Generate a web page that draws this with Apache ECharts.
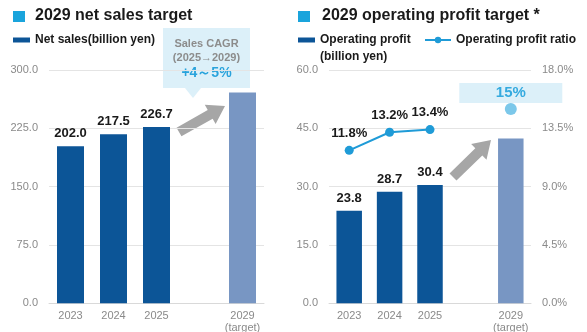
<!DOCTYPE html>
<html>
<head>
<meta charset="utf-8">
<script src="https://cdn.jsdelivr.net/npm/echarts@6/dist/echarts.min.js"></script>
<style>
  html, body { margin: 0; padding: 0; background: #fff; }
  #chart { width: 587px; height: 332px; }
</style>
</head>
<body>
<div id="chart"></div>
<script>
// Fiscal years on both panels; the blank slot separates actuals from the target year
const years = ['2023', '2024', '2025', '', '2029\n(target)'];

// Net sales, billion yen
const netSales = [202.0, 217.5, 226.7, null, 271];

// Operating profit, billion yen
const opProfit = [23.8, 28.7, 30.4, null, 42.4];

// Operating profit ratio, percent
const opRatio = [11.8, 13.2, 13.4, null, 15];

// Axis ranges and steps
const salesAxis = { min: 0, max: 300, interval: 75 };
const profitAxis = { min: 0, max: 60, interval: 15 };
const ratioAxis = { min: 0, max: 18, interval: 4.5 };

const DARK = '#0c5597';
const TARGET = '#7896c3';
const LINE = '#1f9bd7';
const ACCENT = '#1aa4dc';
const FONT = '"Liberation Sans", Arial, sans-serif';

const chart = echarts.init(document.getElementById('chart'), null, { renderer: 'canvas' });

const lastIdx = years.length - 1;

function barData(values) {
  return values.map((v, i) => {
    if (v == null) return null;
    if (i === lastIdx) {
      return { value: v, itemStyle: { color: TARGET }, label: { show: false } };
    }
    return v;
  });
}

function ratioData(values) {
  return values.map((v, i) => {
    if (v == null) return null;
    if (i === lastIdx) {
      return {
        value: v,
        symbolSize: 12,
        itemStyle: { color: '#7cc8ea' },
        label: {
          show: true,
          position: 'top',
          distance: 10,
          formatter: '{c}%',
          color: '#35aadf',
          fontSize: 15,
          fontWeight: 'bold',
          backgroundColor: '#dcf0f9',
          width: 103,
          height: 20,
          lineHeight: 20,
          align: 'center',
          verticalAlign: 'middle'
        }
      };
    }
    return v;
  });
}

const tickLabel = { color: '#8a8a8a', fontSize: 11, fontFamily: FONT };
const valueLabel = { show: true, position: 'top', distance: 6, color: '#1a1a1a', fontSize: 13, fontWeight: 'bold', fontFamily: FONT };
const legendText = { color: '#1a1a1a', fontSize: 12, fontWeight: 'bold', fontFamily: FONT, overflow: 'none' };

function xAxisFor(gridIndex) {
  return {
    type: 'category',
    gridIndex,
    data: years,
    axisTick: { show: false },
    axisLine: { lineStyle: { color: '#d9d9d9', width: 1 } },
    axisLabel: Object.assign({}, tickLabel, { margin: 7, lineHeight: 12, interval: 0 })
  };
}

function valueAxis(gridIndex, range, fmt, position) {
  return {
    type: 'value',
    gridIndex,
    position,
    min: range.min,
    max: range.max,
    interval: range.interval,
    axisLine: { show: false },
    axisTick: { show: false },
    splitLine: { show: position === 'left', lineStyle: { color: '#e4e4e4', width: 1 } },
    axisLabel: Object.assign({}, tickLabel, { margin: 11, formatter: fmt })
  };
}

// Arrow polygon from (x1,y1) to tip (x2,y2)
function arrow(x1, y1, x2, y2, shaft, head, headLen) {
  const dx = x2 - x1, dy = y2 - y1;
  const len = Math.sqrt(dx * dx + dy * dy);
  const ux = dx / len, uy = dy / len;
  const nx = -uy, ny = ux;
  const bx = x2 - ux * headLen, by = y2 - uy * headLen;
  return [
    [x1 + nx * shaft, y1 + ny * shaft],
    [bx + nx * shaft, by + ny * shaft],
    [bx + nx * head, by + ny * head],
    [x2, y2],
    [bx - nx * head, by - ny * head],
    [bx - nx * shaft, by - ny * shaft],
    [x1 - nx * shaft, y1 - ny * shaft]
  ];
}

const titleText = { fill: '#1a1a1a', fontSize: 16, fontWeight: 'bold', fontFamily: FONT };

chart.setOption({
  animation: false,
  backgroundColor: '#fff',
  textStyle: { fontFamily: FONT },
  grid: [
    { left: 49, width: 215, top: 70, height: 233.3, outerBoundsMode: 'none' },
    { left: 329, width: 202, top: 70, height: 233.3, outerBoundsMode: 'none' }
  ],
  legend: [
    {
      left: 13, top: 34, padding: 0,
      data: ['Net sales(billion yen)'],
      icon: 'rect', itemWidth: 17, itemHeight: 5,
      textStyle: legendText
    },
    {
      left: 298, top: 34, padding: 0,
      data: ['Operating profit'],
      icon: 'rect', itemWidth: 17, itemHeight: 5,
      textStyle: legendText
    },
    {
      left: 424, top: 34, padding: 0, width: 163,
      data: ['Operating profit ratio'],
      itemWidth: 26, itemHeight: 8,
      textStyle: legendText
    }
  ],
  xAxis: [xAxisFor(0), xAxisFor(1)],
  yAxis: [
    valueAxis(0, salesAxis, v => v.toFixed(1), 'left'),
    valueAxis(1, profitAxis, v => v.toFixed(1), 'left'),
    valueAxis(1, ratioAxis, v => v.toFixed(1) + '%', 'right')
  ],
  series: [
    {
      name: 'Net sales(billion yen)',
      type: 'bar',
      xAxisIndex: 0, yAxisIndex: 0,
      barWidth: 27,
      itemStyle: { color: DARK },
      label: Object.assign({}, valueLabel, { formatter: p => p.value.toFixed(1) }),
      data: barData(netSales)
    },
    {
      name: 'Operating profit',
      type: 'bar',
      xAxisIndex: 1, yAxisIndex: 1,
      barWidth: 25.5,
      itemStyle: { color: DARK },
      label: Object.assign({}, valueLabel, { formatter: p => p.value.toFixed(1) }),
      data: barData(opProfit)
    },
    {
      name: 'Operating profit ratio',
      type: 'line',
      xAxisIndex: 1, yAxisIndex: 2,
      connectNulls: false,
      symbol: 'circle',
      symbolSize: 9,
      lineStyle: { color: LINE, width: 2 },
      itemStyle: { color: LINE },
      label: Object.assign({}, valueLabel, { distance: 6, formatter: p => p.value.toFixed(1) + '%' }),
      data: ratioData(opRatio),
      z: 5
    }
  ],
  graphic: [
    // panel titles
    { type: 'rect', shape: { x: 13, y: 11, width: 12, height: 11 }, style: { fill: ACCENT } },
    { type: 'text', x: 35, y: 16, style: Object.assign({ text: '2029 net sales target', verticalAlign: 'middle' }, titleText) },
    { type: 'rect', shape: { x: 298, y: 11, width: 12, height: 11 }, style: { fill: ACCENT } },
    { type: 'text', x: 322, y: 16, style: Object.assign({ text: '2029 operating profit target *', verticalAlign: 'middle' }, titleText) },

    // unit line under the operating profit legend entry
    { type: 'text', x: 320, y: 57, style: { text: '(billion yen)', fill: '#1a1a1a', fontSize: 12, fontWeight: 'bold', fontFamily: FONT, verticalAlign: 'middle' } },

    // growth callout above the sales panel
    {
      type: 'polygon',
      shape: { points: [[163, 28], [250, 28], [250, 88], [201, 88], [193, 98], [185, 88], [163, 88]] },
      style: { fill: '#dcf0f9' }
    },
    { type: 'text', x: 206.5, y: 44, style: { text: 'Sales CAGR', fill: '#8c8c8c', fontSize: 11, fontWeight: 'bold', fontFamily: FONT, align: 'center', verticalAlign: 'middle' } },
    { type: 'text', x: 206.5, y: 58, style: { text: '(2025\u21922029)', fill: '#8c8c8c', fontSize: 11, fontWeight: 'bold', fontFamily: FONT, align: 'center', verticalAlign: 'middle' } },
    { type: 'text', x: 206.5, y: 73, style: { text: '+4\uff5e5%', fill: '#29a3dc', fontSize: 14, fontWeight: 'bold', fontFamily: FONT, align: 'center', verticalAlign: 'middle' } },

    // growth arrows toward the target bars
    { type: 'polygon', shape: { points: arrow(179, 132, 225, 106, 5, 11, 17) }, style: { fill: '#a6a6a6' } },
    { type: 'polygon', shape: { points: arrow(453, 177, 491, 140, 5, 11, 17) }, style: { fill: '#a6a6a6' } }
  ]
});
</script>
</body>
</html>
